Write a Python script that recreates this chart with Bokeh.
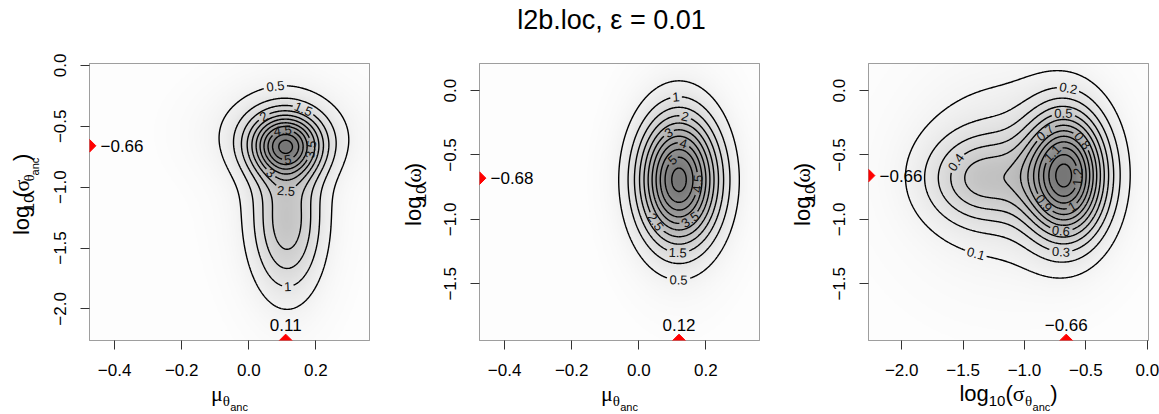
import math
import numpy as np
import contourpy
from bokeh.core.properties import value
from bokeh.embed import file_html
from bokeh.layouts import column, row
from bokeh.models import CustomJSTickFormatter, FixedTicker, LinearColorMapper, Range1d
from bokeh.plotting import figure
from bokeh.resources import INLINE

TITLE = "l2b.loc, ε = 0.01"

# ---------------- panel 1: mu_theta_anc vs log10(sigma_theta_anc)
p1_xlim = (-0.475, 0.36)
p1_ylim = (-2.26, 0.016)
p1_xticks = [-0.4, -0.2, 0.0, 0.2]
p1_yticks = [-2.0, -1.5, -1.0, -0.5, 0.0]
p1_levels = [0.5, 1.0, 1.5, 2.0, 2.5, 3.0, 3.5, 4.0, 4.5, 5.0, 5.5]
p1_mode_x = 0.11
p1_mode_y = -0.66
# smoothed posterior density as a sum of gaussian bumps: height, centre, spread
p1_h = [4.0, 2.0, 0.9, 0.4]
p1_mx = [0.11, 0.115, 0.10, 0.10]
p1_my = [-0.66, -1.30, -0.55, -1.00]
p1_sx = [0.07, 0.07, 0.14, 0.11]
p1_sy = [0.17, 0.40, 0.25, 0.55]
p1_lab_level = [0.5, 1.0, 1.5, 2.0, 2.5, 3.0, 3.5, 4.5, 5.0]

# ---------------- panel 2: mu_theta_anc vs log10(omega)
p2_xlim = (-0.475, 0.36)
p2_ylim = (-1.94, 0.21)
p2_xticks = [-0.4, -0.2, 0.0, 0.2]
p2_yticks = [-1.5, -1.0, -0.5, 0.0]
p2_levels = [0.5, 1.0, 1.5, 2.0, 2.5, 3.0, 3.5, 4.0, 4.5, 5.0, 5.5]
p2_mode_x = 0.12
p2_mode_y = -0.68
p2_h = [4.9, 0.8]
p2_mx = [0.12, 0.12]
p2_my = [-0.69, -0.72]
p2_sx = [0.08, 0.09]
p2_sy = [0.33, 0.45]
p2_lab_level = [0.5, 1.0, 1.5, 2.0, 2.5, 3.0, 3.5, 4.0, 4.5, 5.0]

# ---------------- panel 3: log10(sigma_theta_anc) vs log10(omega)
p3_xlim = (-2.27, 0.01)
p3_ylim = (-1.94, 0.21)
p3_xticks = [-2.0, -1.5, -1.0, -0.5, 0.0]
p3_yticks = [-1.5, -1.0, -0.5, 0.0]
p3_levels = [0.1, 0.2, 0.3, 0.4, 0.5, 0.6, 0.7, 0.8, 0.9, 1.0, 1.1, 1.2, 1.3]
p3_mode_x = -0.66
p3_mode_y = -0.66
p3_h = [1.18, 0.36, 0.22]
p3_mx = [-0.66, -1.35, -1.15]
p3_my = [-0.66, -0.685, -0.62]
p3_sx = [0.22, 0.30, 0.50]
p3_sy = [0.33, 0.23, 0.50]
p3_lab_level = [0.1, 0.2, 0.3, 0.4, 0.5, 0.6, 0.7, 0.8, 0.9, 1.0, 1.1, 1.2]

# where each contour label sits along its line (data coordinates)
p1_lab_at = [(0.08, -0.19), (0.116, -1.81), (0.161, -0.371), (0.03, -0.355), (0.11, -1.078),
             (0.056, -0.914), (0.179, -0.684), (0.101, -0.535), (0.119, -0.807)]
p2_lab_at = [(0.119, -1.467), (0.11, -0.03), (0.116, -1.24), (0.14, -0.186), (0.05, -1.02),
             (0.083, -0.295), (0.14, -0.955), (0.134, -0.41), (0.16, -0.72), (0.098, -0.53)]
p3_lab_at = [(-1.415, -1.32), (-0.65, -0.015), (-0.706, -1.265), (-1.44, -0.64), (-0.68, -0.19),
             (-0.706, -1.11), (-0.845, -0.31), (-0.53, -0.39), (-0.85, -0.88), (-0.60, -0.92),
             (-0.76, -0.50), (-0.57, -0.67)]

SANS = "Liberation Sans"
SERIF = "Liberation Serif"
FW, FH = 280, 277
GRAYS = ["#%02x%02x%02x" % (v, v, v) for v in np.linspace(253, 118, 256).astype(int)]

CHAR_W = {"l": .222, "o": .556, "g": .556, "a": .556, "n": .556, "c": .5, "(": .333, ")": .333,
          ".": .278, "σ": .56, "θ": .5, "μ": .53, "ω": .69}

TICK_JS = "const s = Math.abs(tick).toFixed(1); return (tick < -1e-9 ? '\u2212' : '') + s;"


def minus(v, nd):
    s = f"{abs(v):.{nd}f}"
    return ("\u2212" + s) if v < 0 else s


def text_w(text, size):
    return sum(CHAR_W.get(ch, .556) for ch in text) * size


def strip(w, h):
    """Blank figure measured in pixels, used for the texts around the panels."""
    s = figure(width=w, height=h, x_range=Range1d(0, w), y_range=Range1d(0, h),
               x_axis_type=None, y_axis_type=None, output_backend="svg", toolbar_location=None,
               min_border_left=0, min_border_right=0, min_border_top=0, min_border_bottom=0)
    s.outline_line_color = None
    s.background_fill_color = "white"
    s.border_fill_color = "white"
    return s


def rich_text(s, pieces, along, base, vertical):
    """Pieces of text with sub/sub-sub scripts, centred at `along`, baseline at `base`."""
    total = sum(text_w(t, sz) for t, sz, f, sh in pieces)
    off = -total / 2
    for t, sz, f, sh in pieces:
        m = 0.35 * sz  # baseline -> middle of the text box
        if vertical:
            x, y, ang = base + sh - m, along + off, math.pi / 2
        else:
            x, y, ang = along + off, base - sh + m, 0
        s.text(x=[x], y=[y], text=[t], angle=ang, text_font=value(f), text_font_size=f"{sz}px",
               text_color="black", text_align="left", text_baseline="middle")
        off += text_w(t, sz)


LOG_SIGMA = [("log", 22, SANS, 0), ("10", 15, SANS, 5), ("(", 22, SANS, 0), ("σ", 22, SERIF, 0),
             ("θ", 15, SERIF, 5), ("anc", 11, SANS, 9), (")", 22, SANS, 0)]
LOG_OMEGA = [("log", 22, SANS, 0), ("10", 15, SANS, 5), ("(", 22, SANS, 0), ("ω", 22, SERIF, 0),
             (")", 22, SANS, 0)]
MU = [("μ", 22, SERIF, 0), ("θ", 15, SERIF, 5), ("anc", 11, SANS, 9)]


def panel(xlim, ylim, xticks, yticks, levels, mode_x, mode_y, h, mx, my, sx, sy,
          lab_level, lab_at):
    p = figure(width=47 + FW + 11, height=23 + FH + 40,
               x_range=Range1d(*xlim), y_range=Range1d(*ylim),
               output_backend="svg", toolbar_location=None,
               min_border_left=47, min_border_right=11, min_border_top=23, min_border_bottom=40)
    p.grid.visible = False
    p.background_fill_color = "white"
    p.border_fill_color = "white"
    p.outline_line_color = "#7f7f7f"
    p.outline_line_width = 1
    for ax, ticks in ((p.xaxis[0], xticks), (p.yaxis[0], yticks)):
        ax.ticker = FixedTicker(ticks=ticks)
        ax.formatter = CustomJSTickFormatter(code=TICK_JS)
        ax.axis_line_color = None
        ax.major_tick_in = 0
        ax.major_tick_out = 9
        ax.major_tick_line_color = "#333333"
        ax.minor_tick_line_color = None
        ax.major_label_text_font = SANS
        ax.major_label_text_font_size = "17px"
        ax.major_label_text_color = "black"
    p.xaxis[0].major_label_standoff = 14
    p.yaxis[0].major_label_standoff = 14
    p.yaxis[0].major_label_orientation = "parallel"

    xg = np.linspace(xlim[0], xlim[1], 340)
    yg = np.linspace(ylim[0], ylim[1], 340)
    X, Y = np.meshgrid(xg, yg)
    Z = np.zeros_like(X)
    for hh, ax_, ay_, sx_, sy_ in zip(h, mx, my, sx, sy):
        Z += hh * np.exp(-0.5 * (((X - ax_) / sx_) ** 2 + ((Y - ay_) / sy_) ** 2))

    mapper = LinearColorMapper(palette=GRAYS, low=0, high=float(Z.max()))
    p.image(image=[Z], x=xlim[0], y=ylim[0], dw=xlim[1] - xlim[0], dh=ylim[1] - ylim[0],
            color_mapper=mapper)

    kx = FW / (xlim[1] - xlim[0])
    ky = FH / (ylim[1] - ylim[0])
    gen = contourpy.contour_generator(xg, yg, Z, line_type="Separate")
    xs, ys = [], []
    tx, ty, tt, ta = [], [], [], []
    for lev in levels:
        lines = [np.asarray(l) for l in gen.lines(lev)]
        keep = [np.ones(len(l), dtype=bool) for l in lines]
        for lv, (ax_, ay_) in zip(lab_level, lab_at):
            if abs(lv - lev) > 1e-9 or not lines:
                continue
            best = None
            for li, l in enumerate(lines):
                d = ((l[:, 0] - ax_) * kx) ** 2 + ((l[:, 1] - ay_) * ky) ** 2
                i = int(np.argmin(d))
                if best is None or d[i] < best[0]:
                    best = (d[i], li, i)
            _, li, i = best
            l = lines[li]
            n = len(l)
            a, b = l[max(i - 3, 0)], l[min(i + 3, n - 1)]
            ang = math.atan2((b[1] - a[1]) * ky, (b[0] - a[0]) * kx)
            if ang > math.pi / 2:
                ang -= math.pi
            if ang <= -math.pi / 2:
                ang += math.pi
            label = f"{lev:g}"
            half = text_w(label, 13) / 2 + 2
            dist = np.hypot((l[:, 0] - l[i, 0]) * kx, (l[:, 1] - l[i, 1]) * ky)
            keep[li] &= dist > half
            tx.append(l[i, 0]); ty.append(l[i, 1]); tt.append(label); ta.append(ang)
        for l, k in zip(lines, keep):
            run = []
            for pt, kk in zip(l, k):
                if kk:
                    run.append(pt)
                elif run:
                    if len(run) > 1:
                        xs.append([q[0] for q in run]); ys.append([q[1] for q in run])
                    run = []
            if len(run) > 1:
                xs.append([q[0] for q in run]); ys.append([q[1] for q in run])

    p.multi_line(xs=xs, ys=ys, line_color="black", line_width=1.4)
    p.text(x=tx, y=ty, text=tt, angle=ta, text_font=value(SANS), text_font_size="13px",
           text_align="center", text_baseline="middle", text_color="#111111")

    # posterior modes marked on the two axes, with their values
    p.scatter(x=[xlim[0], mode_x], y=[mode_y, ylim[0]], marker="square", size=9,
              angle=math.pi / 4, color="#ff0000")
    p.text(x=[xlim[0]], y=[mode_y], text=[minus(mode_y, 2)], x_offset=11,
           text_font=value(SANS), text_font_size="17px", text_align="left",
           text_baseline="middle", text_color="black")
    p.text(x=[mode_x], y=[ylim[0]], text=[minus(mode_x, 2)], y_offset=-16,
           text_font=value(SANS), text_font_size="17px", text_align="center",
           text_baseline="middle", text_color="black")
    return p


p1 = panel(p1_xlim, p1_ylim, p1_xticks, p1_yticks, p1_levels, p1_mode_x, p1_mode_y,
           p1_h, p1_mx, p1_my, p1_sx, p1_sy, p1_lab_level, p1_lab_at)
p2 = panel(p2_xlim, p2_ylim, p2_xticks, p2_yticks, p2_levels, p2_mode_x, p2_mode_y,
           p2_h, p2_mx, p2_my, p2_sx, p2_sy, p2_lab_level, p2_lab_at)
p3 = panel(p3_xlim, p3_ylim, p3_xticks, p3_yticks, p3_levels, p3_mode_x, p3_mode_y,
           p3_h, p3_mx, p3_my, p3_sx, p3_sy, p3_lab_level, p3_lab_at)

# axis titles, each in a strip beside / below its panel
PH = 23 + FH + 40
MID = PH - 23 - FH / 2          # vertical centre of the frames inside the strips
y1 = strip(42, PH); rich_text(y1, LOG_SIGMA, MID, 29, True)
y2 = strip(52, PH); rich_text(y2, LOG_OMEGA, MID, 41, True)
y3 = strip(51, PH); rich_text(y3, LOG_OMEGA, MID, 40, True)
x1 = strip(380, 34); rich_text(x1, MU, 229, 13, False)
x2 = strip(390, 34); rich_text(x2, MU, 239, 13, False)
x3 = strip(389, 34); rich_text(x3, LOG_SIGMA, 238, 13, False)

title = strip(1159, 40)
title.text(x=[611], y=[40 - 29 + 0.35 * 27], text=[TITLE], text_font=value(SANS),
           text_font_size="27px", text_align="center", text_baseline="middle",
           text_color="black")

layout = column(title,
                row(column(row(y1, p1), x1), column(row(y2, p2), x2), column(row(y3, p3), x3)))
open("out.html", "w").write(file_html(layout, INLINE))
